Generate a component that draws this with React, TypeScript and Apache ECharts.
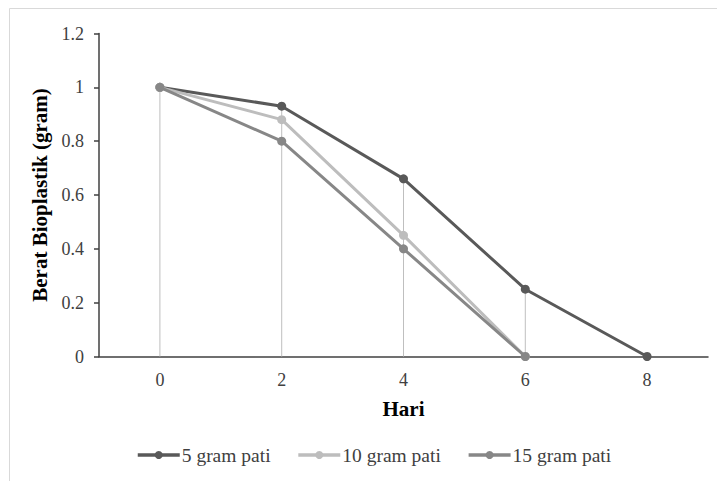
import React, { useEffect, useRef } from "react";
import * as echarts from "echarts";

const categories = ["0", "2", "4", "6", "8"];
const seriesNames = ["5 gram pati", "10 gram pati", "15 gram pati"];
const pati5 = [1, 0.93, 0.66, 0.25, 0];
const pati10 = [1, 0.88, 0.45, 0, null];
const pati15 = [1, 0.8, 0.4, 0, null];
const yTicks = [0, 0.2, 0.4, 0.6, 0.8, 1, 1.2];
const colors = ["#595959", "#bdbdbd", "#878787"];

const FONT = "'Liberation Serif', 'Times New Roman', serif";

export default function App() {
  const ref = useRef<HTMLDivElement>(null);
  useEffect(() => {
    if (!ref.current) return;
    const chart = echarts.init(ref.current, undefined, { renderer: "svg" });
    const all = [pati5, pati10, pati15];
    const dropMax = categories.map((_, i) => {
      const vals = all.map((s) => s[i]).filter((v) => v !== null) as number[];
      return Math.max(...vals);
    });
    const lineSeries = all.map((data, k) => ({
      name: seriesNames[k],
      type: "line",
      data,
      symbol: "circle",
      symbolSize: 9,
      lineStyle: { color: colors[k], width: 3 },
      itemStyle: { color: colors[k] },
      z: 3 + k,
    }));
    chart.setOption({
      animation: false,
      backgroundColor: "#ffffff",
      textStyle: { fontFamily: FONT },
      graphic: [
        {
          type: "rect",
          shape: { x: 9.5, y: 8.5, width: 760, height: 520 },
          style: { fill: "none", stroke: "#d9d9d9", lineWidth: 1 },
          silent: true,
        },
      ],
      grid: { left: 99, right: 9, top: 33.5, bottom: 124.5, containLabel: false },
      legend: {
        data: seriesNames,
        top: 440,
        left: 131,
        itemWidth: 42,
        itemHeight: 10,
        itemGap: 26,
        lineStyle: { width: 3.5 },
        textStyle: { fontFamily: FONT, fontSize: 19.5, color: "#404040", padding: [0, 0, 0, -3] },
      },
      xAxis: {
        type: "category",
        data: categories,
        boundaryGap: true,
        name: "Hari",
        nameLocation: "middle",
        nameGap: 42,
        nameTextStyle: { fontFamily: FONT, fontSize: 21, fontWeight: "bold", color: "#000" },
        axisLine: { show: true, lineStyle: { color: "#404040", width: 1.5 } },
        axisTick: { show: false },
        axisLabel: { fontFamily: FONT, fontSize: 18, color: "#404040", margin: 14 },
        splitLine: { show: false },
      },
      yAxis: {
        type: "value",
        min: 0,
        max: 1.2,
        interval: 0.2,
        name: "Berat Bioplastik (gram)",
        nameLocation: "middle",
        nameGap: 46,
        nameTextStyle: { fontFamily: FONT, fontSize: 21, fontWeight: "bold", color: "#000" },
        axisLine: { show: true, lineStyle: { color: "#404040", width: 1.5 } },
        axisTick: { show: true, length: 5, lineStyle: { color: "#404040", width: 1.5 } },
        axisLabel: {
          fontFamily: FONT,
          fontSize: 18,
          color: "#404040",
          margin: 15,
          formatter: (v: number) => (yTicks.includes(Math.round(v * 10) / 10) ? String(Math.round(v * 10) / 10) : ""),
        },
        splitLine: { show: false },
      },
      series: [
        {
          name: "drop",
          type: "bar",
          data: dropMax,
          barWidth: 1,
          itemStyle: { color: "#bfbfbf" },
          silent: true,
          z: 1,
        },
        ...lineSeries,
      ],
    });
    return () => chart.dispose();
  }, []);
  return (
    <div
      ref={ref}
      style={{ position: "absolute", left: 0, top: 0, width: 717, height: 481 }}
    />
  );
}
